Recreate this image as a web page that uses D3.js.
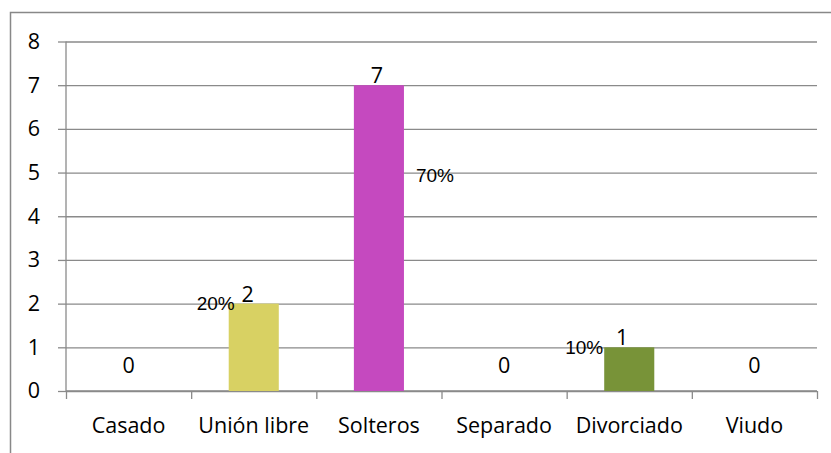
<!DOCTYPE html>
<html><head><meta charset="utf-8">
<script src="https://cdn.jsdelivr.net/npm/d3@7"></script>
<style>body{margin:0;background:#fff}svg{display:block}</style>
</head><body>
<svg id="c" width="831" height="453"></svg>
<script>
const categories = ["Casado", "Unión libre", "Solteros", "Separado", "Divorciado", "Viudo"];
const values = [0, 2, 7, 0, 1, 0];
const percents = ["", "20%", "70%", "", "10%", ""];
const colors = ["#4F81BD", "#D8D163", "#C549BF", "#8064A2", "#789338", "#F79646"];
const yTicks = [0, 1, 2, 3, 4, 5, 6, 7, 8];

(function () {
const svg = d3.select("#c");
const pL = 66, pR = 817, pT = 41.5, pB = 391;
const font = "'Open Sans', sans-serif";
const fs = 21.5;
// label placement tweaks (layout only)
const valDx = [0, -6, -2, 0, -7, 0];
const pctLayout = {1: {side: "left", dx: 6, dy: 0}, 2: {side: "right", dx: 12, dy: 90}, 4: {side: "left", dx: -1, dy: 0}};

svg.append("rect").attr("x", 10.5).attr("y", 12.5).attr("width", 840).attr("height", 460)
  .attr("fill", "none").attr("stroke", "#888").attr("stroke-width", 1.5);

const x = d3.scaleBand().domain(categories).range([pL, pR]).paddingInner(0.6).paddingOuter(0.3);
const y = d3.scaleLinear().domain([0, 8]).range([pB, pT]);

// gridlines
const grid = svg.append("g").attr("transform", `translate(${pL},0)`)
  .call(d3.axisLeft(y).tickValues(yTicks).tickSize(-(pR - pL)).tickFormat(""));
grid.selectAll("line").attr("stroke", "#8a8a8a").attr("stroke-width", 1.3);
grid.select(".domain").remove();

// y axis
const ya = svg.append("g").attr("transform", `translate(${pL},0)`)
  .call(d3.axisLeft(y).tickValues(yTicks).tickSize(8).tickPadding(18).tickFormat(d3.format("d")));
ya.selectAll("line").attr("stroke", "#8a8a8a").attr("stroke-width", 1.3);
ya.select(".domain").attr("stroke", "#8a8a8a").attr("stroke-width", 1.3).attr("d", `M0,${pT}V${pB}`);
ya.selectAll("text").attr("font-family", font).attr("font-size", fs).attr("fill", "#000");

// x axis
const xb = d3.scalePoint().domain(d3.range(categories.length + 1)).range([pL, pR]);
const xa = svg.append("g").attr("transform", `translate(0,${pB})`)
  .call(d3.axisBottom(xb).tickSize(8).tickFormat(""));
xa.selectAll("line").attr("stroke", "#8a8a8a").attr("stroke-width", 1.3);
xa.select(".domain").attr("stroke", "#8a8a8a").attr("stroke-width", 1.3).attr("d", `M${pL},0H${pR}`);

svg.append("g").selectAll("text").data(categories).join("text")
  .attr("x", d => x(d) + x.bandwidth() / 2).attr("y", pB + 42)
  .attr("text-anchor", "middle").attr("font-family", font).attr("font-size", fs).attr("fill", "#000")
  .text(d => d);

// bars
svg.append("g").selectAll("rect").data(values).join("rect")
  .attr("x", (d, i) => x(categories[i])).attr("width", x.bandwidth())
  .attr("y", d => y(d)).attr("height", d => y(0) - y(d))
  .attr("fill", (d, i) => colors[i]);

// value labels
svg.append("g").selectAll("text").data(values).join("text")
  .attr("x", (d, i) => x(categories[i]) + x.bandwidth() / 2 + valDx[i])
  .attr("y", d => d > 0 ? y(d) - 2 : y(0) - 18)
  .attr("text-anchor", "middle").attr("font-family", font).attr("font-size", fs).attr("fill", "#000")
  .text(d => d);

// percent labels
svg.append("g").selectAll("text").data(percents.map((p, i) => ({p, i})).filter(o => o.p)).join("text")
  .attr("x", o => pctLayout[o.i].side === "right" ? x(categories[o.i]) + x.bandwidth() + pctLayout[o.i].dx : x(categories[o.i]) + pctLayout[o.i].dx)
  .attr("y", o => y(values[o.i]) + pctLayout[o.i].dy)
  .attr("dy", "0.35em")
  .attr("text-anchor", o => pctLayout[o.i].side === "right" ? "start" : "end")
  .attr("font-family", "'Liberation Sans', Arial, sans-serif").attr("font-size", 19).attr("fill", "#000")
  .text(o => o.p);
})();
</script>
</body></html>
